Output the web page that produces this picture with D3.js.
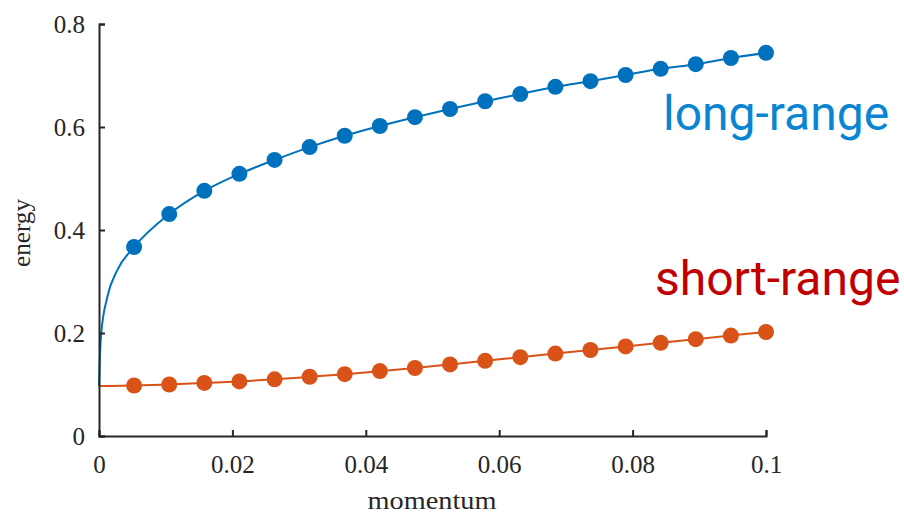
<!DOCTYPE html>
<html>
<head>
<meta charset="utf-8">
<script src="https://cdn.jsdelivr.net/npm/d3@7"></script>
<style>
  body { margin: 0; background: #fff; }
  .tick text { font-family: "Liberation Serif", serif; }
</style>
</head>
<body>
<script>
// marker positions (momentum) and energies
var momentum = [0.00526, 0.01053, 0.01579, 0.02105, 0.02632, 0.03158, 0.03684, 0.04211, 0.04737, 0.05263,
                0.05789, 0.06316, 0.06842, 0.07368, 0.07895, 0.08421, 0.08947, 0.09474, 0.1];
var longRange = [0.367, 0.431, 0.476, 0.509, 0.536, 0.561, 0.583, 0.602, 0.619, 0.635,
                 0.650, 0.664, 0.678, 0.689, 0.701, 0.713, 0.722, 0.734, 0.744];
var shortRange = [0.098, 0.100, 0.103, 0.106, 0.110, 0.115, 0.120, 0.126, 0.132, 0.139,
                  0.146, 0.153, 0.160, 0.167, 0.174, 0.181, 0.188, 0.195, 0.202];
// extra points of the thin curve close to zero momentum
var longStartX = [0, 0.0001, 0.00034, 0.00125, 0.00274];
var longStartY = [0.097, 0.142, 0.2, 0.27, 0.322];
var shortStart = [0, 0.097];

var xTicks = [0, 0.02, 0.04, 0.06, 0.08, 0.1];
var yTicks = [0, 0.2, 0.4, 0.6, 0.8];

var margin = {left: 99, right: 138, top: 24, bottom: 78},
    width = 904 - margin.left - margin.right,
    height = 514 - margin.top - margin.bottom;

var svg = d3.select("body").append("svg")
    .attr("width", 904)
    .attr("height", 514);

var g = svg.append("g")
    .attr("transform", "translate(" + margin.left + "," + margin.top + ")");

var x = d3.scaleLinear().domain([0, 0.1]).range([0, width]);
var y = d3.scaleLinear().domain([0, 0.8]).range([height, 0]);

var blue = "#0072BD", orange = "#D95319";

var longPts = longStartX.map(function(d, i) { return [d, longStartY[i]]; })
    .concat(momentum.map(function(d, i) { return [d, longRange[i]]; }));
var shortPts = [shortStart].concat(momentum.map(function(d, i) { return [d, shortRange[i]]; }));

var line = d3.line()
    .x(function(d) { return x(d[0]); })
    .y(function(d) { return y(d[1]); })
    .curve(d3.curveMonotoneX);

g.append("path").datum(longPts).attr("d", line)
    .attr("fill", "none").attr("stroke", blue).attr("stroke-width", 2);
g.append("path").datum(shortPts).attr("d", line)
    .attr("fill", "none").attr("stroke", orange).attr("stroke-width", 2);

g.selectAll(".lr").data(momentum).enter().append("circle")
    .attr("cx", function(d) { return x(d); })
    .attr("cy", function(d, i) { return y(longRange[i]); })
    .attr("r", 8)
    .attr("fill", blue);
g.selectAll(".sr").data(momentum).enter().append("circle")
    .attr("cx", function(d) { return x(d); })
    .attr("cy", function(d, i) { return y(shortRange[i]); })
    .attr("r", 8)
    .attr("fill", orange);

// axes, ticks pointing inward
var xAxis = g.append("g")
    .attr("transform", "translate(0," + height + ")")
    .call(d3.axisBottom(x).tickValues(xTicks).tickSize(-6).tickPadding(14)
        .tickFormat(function(d) { return d === 0 ? "0" : String(+d.toFixed(2)); }));
var yAxis = g.append("g")
    .call(d3.axisLeft(y).tickValues(yTicks).tickSize(-6).tickPadding(14)
        .tickFormat(function(d) { return d === 0 ? "0" : String(+d.toFixed(1)); }));

[xAxis, yAxis].forEach(function(a) {
    a.select(".domain").attr("stroke", "#262626").attr("stroke-width", 2);
    a.selectAll(".tick line").attr("stroke", "#262626").attr("stroke-width", 2);
    a.selectAll(".tick text").attr("fill", "#262626").style("font-size", "25px");
});
xAxis.selectAll(".tick text").attr("dy", "0.9em");
yAxis.selectAll(".tick text").attr("dy", "0.35em");

svg.append("text")
    .attr("x", 432).attr("y", 509)
    .attr("text-anchor", "middle")
    .style("font-family", "Liberation Serif, serif").style("font-size", "26px")
    .attr("textLength", 129).attr("lengthAdjust", "spacingAndGlyphs")
    .attr("fill", "#262626")
    .text("momentum");

svg.append("text")
    .attr("transform", "translate(30,233) rotate(-90)")
    .attr("text-anchor", "middle")
    .style("font-family", "Liberation Serif, serif").style("font-size", "26px")
    .attr("textLength", 68).attr("lengthAdjust", "spacingAndGlyphs")
    .attr("fill", "#262626")
    .text("energy");

svg.append("text")
    .attr("x", 663).attr("y", 130)
    .style("font-family", "Roboto, sans-serif").style("font-size", "48px")
    .attr("fill", "#0A85D1")
    .text("long-range");

svg.append("text")
    .attr("x", 655).attr("y", 295)
    .style("font-family", "Roboto, sans-serif").style("font-size", "48px")
    .attr("fill", "#C00000")
    .text("short-range");
</script>
</body>
</html>
